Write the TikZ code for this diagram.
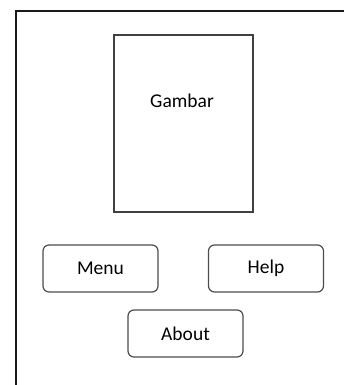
\documentclass[tikz,border=0pt]{standalone}
\usepackage{fontspec}
\setmainfont{Carlito}
\begin{document}
\begin{tikzpicture}[x=1pt,y=-1pt,
  frame/.style={line width=2pt,draw=black!90},
  imgbox/.style={draw=black!75,line width=1.3pt,minimum width=139pt,minimum height=177pt,inner sep=0pt},
  btn/.style={draw=black!70,line width=1.2pt,rounded corners=6pt,minimum width=115pt,minimum height=47pt,inner sep=0pt,font=\fontsize{19.5}{22}\selectfont,text=black},
  lbl/.style={font=\fontsize{19.5}{22}\selectfont,text=black,inner sep=0pt}]
\useasboundingbox (0,0) rectangle (343,385);
\coordinate (tr) at (344,11);
\coordinate (tl) at (16,11);
\coordinate (bl) at (16,386);
\draw[frame] (tr) -- (tl) -- (bl);
\node[imgbox] (gambar) at (183.5,123.5) {};
\node[lbl] (gambartext) at (182,101) {Gambar};
\node[btn] (menu) at (100.5,268.5) {Menu};
\node[btn] (help) at (266,268.5) {Help};
\node[btn] (about) at (185.5,333.5) {About};
\end{tikzpicture}
\end{document}
